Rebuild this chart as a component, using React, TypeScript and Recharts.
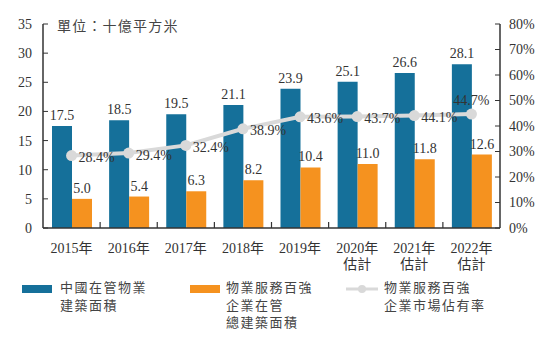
import { ComposedChart, Bar, Line, XAxis, YAxis, LabelList } from 'recharts';

const years = ['2015年', '2016年', '2017年', '2018年', '2019年', '2020年\n估計', '2021年\n估計', '2022年\n估計'];
const totalArea = [17.5, 18.5, 19.5, 21.1, 23.9, 25.1, 26.6, 28.1];
const top100Area = [5.0, 5.4, 6.3, 8.2, 10.4, 11.0, 11.8, 12.6];
const marketShare = [28.4, 29.4, 32.4, 38.9, 43.6, 43.7, 44.1, 44.7];
const leftTicks = [0, 5, 10, 15, 20, 25, 30, 35];
const rightTicks = [0, 10, 20, 30, 40, 50, 60, 70, 80];

const data = years.map((year, i) => ({
  year,
  total: totalArea[i],
  top100: top100Area[i],
  share: marketShare[i],
}));

const BLUE = '#15709a';
const ORANGE = '#f5921f';
const GREY = '#d9d9d9';
const TEXT = '#333';
const FONT = '"Liberation Serif", "Noto Sans CJK TC", serif';

const CHART_W = 547;
const LEFT_W = 43;
const RIGHT_W = 47;
const band = (CHART_W - LEFT_W - RIGHT_W) / years.length;

const XTick = (props: any) => {
  const { x, y, payload, index } = props;
  const lines = String(payload.value).split('\n');
  return (
    <g>
      {index < years.length - 1 && (
        <line x1={x + band / 2} x2={x + band / 2} y1={y} y2={y - 6} stroke={TEXT} strokeWidth={1.2} />
      )}
      <text x={x} y={y + 25} textAnchor="middle" fill={TEXT} fontSize={14} fontFamily={FONT}>
        {lines.map((l: string, k: number) => (
          <tspan key={k} x={x} dy={k === 0 ? 0 : 16}>{l}</tspan>
        ))}
      </text>
    </g>
  );
};

const ShareLabel = (props: any) => {
  const { x, y, value, index } = props;
  const last = index === marketShare.length - 1;
  return (
    <text
      x={last ? x : x + 7}
      y={last ? y - 14 : y + 2}
      textAnchor={last ? 'middle' : 'start'}
      dominantBaseline="central"
      fill={TEXT}
      fontSize={14}
      fontFamily={FONT}
    >
      {value.toFixed(1)}%
    </text>
  );
};

const legendText = { fontSize: 13, letterSpacing: 1.5, lineHeight: '17.5px', color: '#444', fontFamily: FONT };

export default function App() {
  return (
    <div style={{ position: 'absolute', left: 0, top: 0, width: 547, height: 347, background: '#fff' }}>
      <ComposedChart
        width={CHART_W}
        height={347}
        data={data}
        margin={{ top: 24, right: 0, bottom: 79, left: 0 }}
        barGap={0}
        barSize={20}
      >
        <XAxis
          dataKey="year"
          height={40}
          tick={<XTick />}
          tickSize={0}
          tickMargin={0}
          tickLine={false}
          axisLine={{ stroke: TEXT, strokeWidth: 1.5 }}
          interval={0}
        />
        <YAxis
          yAxisId="left"
          width={LEFT_W}
          domain={[0, 35]}
          ticks={leftTicks}
          tickSize={-5}
          tickMargin={16}
          tick={{ fill: TEXT, fontSize: 14, fontFamily: FONT }}
          tickLine={{ stroke: TEXT }}
          axisLine={{ stroke: TEXT, strokeWidth: 1.5 }}
        />
        <YAxis
          yAxisId="right"
          orientation="right"
          width={RIGHT_W}
          domain={[0, 80]}
          ticks={rightTicks}
          tickFormatter={(v: number) => `${v}%`}
          tickSize={-5}
          tickMargin={14}
          tick={{ fill: TEXT, fontSize: 14, fontFamily: FONT, textAnchor: 'start' }}
          tickLine={{ stroke: TEXT }}
          axisLine={{ stroke: TEXT, strokeWidth: 1.5 }}
        />
        <Bar yAxisId="left" dataKey="total" fill={BLUE} isAnimationActive={false}>
          <LabelList dataKey="total" position="top" offset={6} fill={TEXT} fontSize={14} fontFamily={FONT} formatter={(v: any) => Number(v).toFixed(1)} />
        </Bar>
        <Bar yAxisId="left" dataKey="top100" fill={ORANGE} isAnimationActive={false}>
          <LabelList dataKey="top100" position="top" offset={6} fill={TEXT} fontSize={14} fontFamily={FONT} formatter={(v: any) => Number(v).toFixed(1)} />
        </Bar>
        <Line
          yAxisId="right"
          dataKey="share"
          stroke={GREY}
          strokeWidth={4}
          dot={{ r: 5.5, fill: GREY, stroke: GREY, strokeWidth: 0 }}
          isAnimationActive={false}
        >
          <LabelList dataKey="share" content={<ShareLabel />} />
        </Line>
      </ComposedChart>

      <div style={{ position: 'absolute', left: 57, top: 15, fontSize: 14, letterSpacing: 1.2, color: '#444', fontFamily: FONT }}>
        單位：十億平方米
      </div>

      <div style={{ position: 'absolute', left: 22, top: 285, width: 30, height: 8, background: BLUE }} />
      <div style={{ position: 'absolute', left: 60, top: 279, ...legendText }}>
        中國在管物業<br />建築面積
      </div>

      <div style={{ position: 'absolute', left: 190, top: 285, width: 30, height: 8, background: ORANGE }} />
      <div style={{ position: 'absolute', left: 226, top: 279, ...legendText }}>
        物業服務百強<br />企業在管<br />總建築面積
      </div>

      <svg style={{ position: 'absolute', left: 346, top: 282 }} width={32} height={14}>
        <line x1={0} x2={32} y1={7} y2={7} stroke={GREY} strokeWidth={3} />
        <circle cx={16} cy={7} r={4} fill={GREY} />
      </svg>
      <div style={{ position: 'absolute', left: 384, top: 279, ...legendText }}>
        物業服務百強<br />企業市場佔有率
      </div>
    </div>
  );
}
